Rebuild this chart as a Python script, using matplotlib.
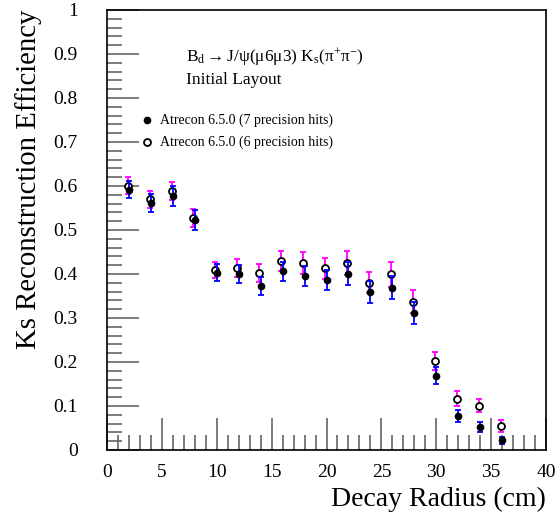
import numpy as np
import matplotlib
matplotlib.use('Agg')
import matplotlib.pyplot as plt
from matplotlib.ticker import MultipleLocator, FormatStrFormatter

plt.rcParams['font.family'] = ['Liberation Serif', 'DejaVu Serif']
plt.rcParams['mathtext.fontset'] = 'custom'
plt.rcParams['mathtext.rm'] = 'Liberation Serif'
plt.rcParams['mathtext.it'] = 'Liberation Serif:italic'

# decay radius bins (cm)
radius = np.arange(2, 38, 2)

# 7 precision hits (filled, blue errors)
eff7 = [0.592, 0.562, 0.577, 0.523, 0.403, 0.400, 0.373, 0.406, 0.396,
        0.387, 0.401, 0.358, 0.369, 0.311, 0.169, 0.077, 0.052, 0.022]
err7 = [0.020, 0.020, 0.022, 0.023, 0.019, 0.020, 0.021, 0.022, 0.023,
        0.023, 0.027, 0.025, 0.026, 0.025, 0.019, 0.013, 0.012, 0.008]

# 6 precision hits (open, magenta errors)
eff6 = [0.601, 0.570, 0.588, 0.527, 0.410, 0.413, 0.402, 0.430, 0.425,
        0.413, 0.425, 0.380, 0.399, 0.337, 0.202, 0.117, 0.101, 0.055]
err6 = [0.020, 0.019, 0.020, 0.021, 0.018, 0.020, 0.021, 0.023, 0.024,
        0.024, 0.028, 0.024, 0.028, 0.026, 0.020, 0.016, 0.014, 0.013]

fig = plt.figure(figsize=(5.58, 5.27), dpi=100)
ax = fig.add_axes([107/558, 1-450/527, 439/558, 440/527])

# open markers, magenta error bars
ax.errorbar(radius-0.12, eff6, yerr=err6, fmt='o', ms=5, mfc='white', mec='black',
            mew=1.3, ecolor='magenta', elinewidth=1.3, capsize=2.2, capthick=1.3, zorder=3)
# filled markers, blue error bars
ax.errorbar(radius, eff7, yerr=err7, fmt='o', ms=4.5, mfc='black', mec='black',
            ecolor='blue', elinewidth=1.3, capsize=2.2, capthick=1.3, zorder=4)

ax.set_xlim(0, 40)
ax.set_ylim(0, 1)
ax.xaxis.set_major_locator(MultipleLocator(5))
ax.xaxis.set_minor_locator(MultipleLocator(1))
ax.yaxis.set_major_locator(MultipleLocator(0.1))
ax.yaxis.set_minor_locator(MultipleLocator(0.02))
ax.yaxis.set_major_formatter(FormatStrFormatter('%g'))
ax.tick_params(which='both', direction='in', color='#666666', width=1.2,
               labelsize=14, top=False, right=False)
ax.tick_params(which='major', length=23, pad=10)
ax.tick_params(which='minor', length=11)
ax.tick_params(axis='y', pad=21)
for s in ax.spines.values():
    s.set_linewidth(1.2)

ax.set_xlabel('Decay Radius (cm)', fontsize=20, loc='right', labelpad=4)
ax.set_ylabel('Ks Reconstruction Efficiency', fontsize=20.7, loc='top', labelpad=8)

ax.text(0.18, 0.893,
        r'$\mathrm{B_{d}\rightarrow J/ψ(μ6μ3)\ K_{s}(π^{+}π^{-})}$',
        transform=ax.transAxes, fontsize=12.5, va='center')
ax.text(0.18, 0.841, 'Initial Layout', transform=ax.transAxes, fontsize=12.5, va='center')

ax.plot([0.09], [0.75], 'o', ms=4.5, color='black', transform=ax.transAxes, clip_on=False)
ax.plot([0.09], [0.70], 'o', ms=5, mfc='white', mec='black', mew=1.3,
        transform=ax.transAxes, clip_on=False)
ax.text(0.12, 0.75, 'Atrecon 6.5.0 (7 precision hits)', transform=ax.transAxes,
        fontsize=10, va='center')
ax.text(0.12, 0.70, 'Atrecon 6.5.0 (6 precision hits)', transform=ax.transAxes,
        fontsize=10, va='center')

fig.savefig('out.png', dpi=100)
